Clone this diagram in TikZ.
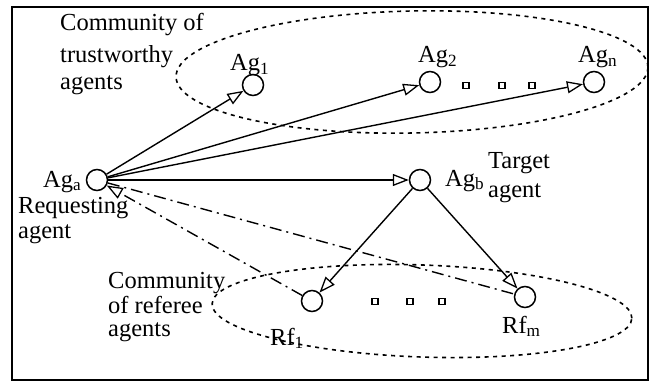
\documentclass[tikz,border=0pt]{standalone}
\usepackage{fontspec}
\setmainfont{Liberation Serif}
\usetikzlibrary{arrows.meta}
\begin{document}
\begin{tikzpicture}[x=1pt,y=-1pt,
  txt/.style={anchor=base west,inner sep=0pt,font=\fontsize{24.5}{29}\selectfont},
  agent/.style={circle,draw,line width=1.5pt,minimum size=21pt,inner sep=0pt},
  gap/.style={rectangle,draw,line width=1.3pt,minimum size=6pt,inner sep=0pt},
  tip/.style={-{Triangle[open,length=16pt,width=12pt,line width=1.3pt]}},
  link/.style={line width=1.4pt,tip},
  reply/.style={line width=1.4pt,dash pattern=on 12pt off 5pt on 2pt off 5pt},
  community/.style={line width=1.6pt,dash pattern=on 4pt off 4.5pt}]
\useasboundingbox (0,0) rectangle (650,382);
\draw[line width=1.6pt] (12,7) rectangle (648,380);

% communities
\draw[community,rotate around={1.2:(412,72)}] (412,72) ellipse [x radius=236pt,y radius=61pt];
\draw[community,rotate around={-2:(422,311)}] (422,311) ellipse [x radius=210pt,y radius=46pt];

% agents
\node[agent] (aga) at (97,180) {};
\node[agent] (ag1) at (253,85) {};
\node[agent] (ag2) at (430,82) {};
\node[agent] (agn) at (594,82) {};
\node[agent] (agb) at (420,180) {};
\node[agent] (rf1) at (312,301) {};
\node[agent] (rfm) at (525,297) {};

% ellipsis marks
\node[gap] (t1) at (466,85.5) {};
\node[gap] (t2) at (502,85.5) {};
\node[gap] (t3) at (532,85.5) {};
\node[gap] (b1) at (375,301.5) {};
\node[gap] (b2) at (410,301.5) {};
\node[gap] (b3) at (442,301.5) {};

% labels
\node[txt] (l1) at (60,31) {Community of};
\node[txt] (l2) at (60,63) {trustworthy};
\node[txt] (l3) at (60,90) {agents};
\node[txt] (la1) at (230,71) {Ag\textsubscript{1}};
\node[txt] (la2) at (418,63) {Ag\textsubscript{2}};
\node[txt] (lan) at (578,63) {Ag\textsubscript{n}};
\node[txt] (laa) at (43,187) {Ag\textsubscript{a}};
\node[txt] (lr1) at (18,213) {Requesting};
\node[txt] (lr2) at (18,238) {agent};
\node[txt] (lab) at (445,186) {Ag\textsubscript{b}};
\node[txt] (lt1) at (488,169) {Target};
\node[txt] (lt2) at (488,197) {agent};
\node[txt] (lc1) at (108,288) {Community};
\node[txt] (lc2) at (108,313) {of referee};
\node[txt] (lc3) at (108,336) {agents};
\node[txt] (lf1) at (270,345) {Rf\textsubscript{1}};
\node[txt] (lfm) at (502,333) {Rf\textsubscript{m}};

% requests
\draw[link] (aga) -- (ag1);
\draw[link] (aga) -- (ag2);
\draw[link] (aga) -- (agn);
\draw[link] (aga) -- (agb);
\draw[link] (agb) -- (rf1);
\draw[link] (agb) -- (rfm);

% referee replies
\draw[reply,tip] (rf1) -- (aga);
\draw[reply] (aga) -- (rfm);
\end{tikzpicture}
\end{document}
